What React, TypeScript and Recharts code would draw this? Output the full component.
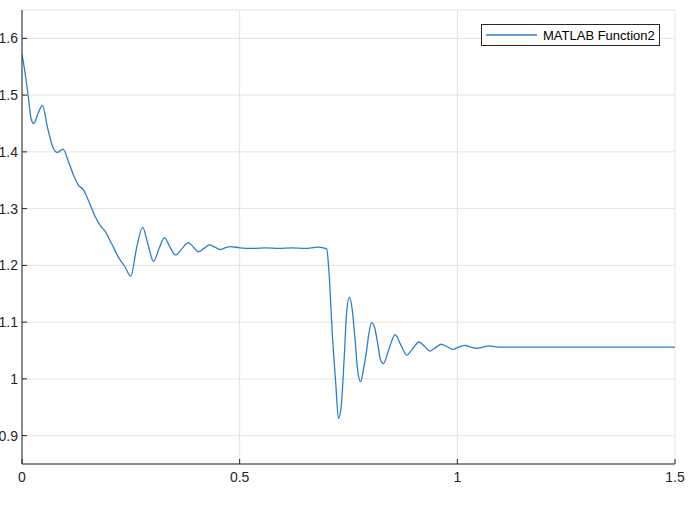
import { LineChart, Line, XAxis, YAxis, CartesianGrid } from 'recharts';

// sample times (s) and signal values
const times = [
  0, 0.006, 0.014, 0.021, 0.027, 0.037, 0.047, 0.058, 0.070, 0.081, 0.094, 0.108, 0.121, 0.129,
  0.141, 0.155, 0.168, 0.180, 0.191, 0.206, 0.221, 0.236, 0.250, 0.263, 0.277, 0.290, 0.302,
  0.315, 0.327, 0.340, 0.353, 0.368, 0.382, 0.394, 0.405, 0.418, 0.430, 0.443, 0.455, 0.467,
  0.478, 0.50, 0.53, 0.56, 0.59, 0.62, 0.65, 0.68, 0.70, 0.705, 0.713, 0.721, 0.727, 0.733,
  0.740, 0.746, 0.752, 0.758, 0.765, 0.771, 0.778, 0.784, 0.791, 0.797, 0.803, 0.810, 0.817,
  0.823, 0.830, 0.844, 0.857, 0.870, 0.884, 0.898, 0.912, 0.925, 0.937, 0.950, 0.963, 0.976,
  0.989, 1.003, 1.018, 1.031, 1.045, 1.058, 1.071, 1.10, 1.15, 1.20, 1.25, 1.30, 1.35, 1.40,
  1.45, 1.50,
];
const values = [
  1.572, 1.545, 1.50, 1.458, 1.450, 1.468, 1.482, 1.445, 1.410, 1.399, 1.405, 1.380, 1.354, 1.342,
  1.333, 1.310, 1.286, 1.270, 1.260, 1.238, 1.215, 1.198, 1.181, 1.230, 1.267, 1.235, 1.207,
  1.230, 1.249, 1.232, 1.218, 1.230, 1.240, 1.232, 1.224, 1.230, 1.236, 1.232, 1.228, 1.231,
  1.233, 1.231, 1.230, 1.231, 1.230, 1.231, 1.230, 1.232, 1.229, 1.19, 1.077, 0.989, 0.930, 0.95,
  1.035, 1.12, 1.144, 1.125, 1.07, 1.015, 0.995, 1.015, 1.047, 1.08, 1.099, 1.09, 1.063,
  1.035, 1.027, 1.055, 1.078, 1.060, 1.042, 1.054, 1.065, 1.057, 1.049, 1.055, 1.061, 1.057,
  1.052, 1.056, 1.059, 1.056, 1.054, 1.056, 1.058, 1.056, 1.056, 1.056, 1.056, 1.056, 1.056, 1.056,
  1.056, 1.056,
];
const xTicks = [0, 0.5, 1, 1.5];
const yTicks = [0.9, 1, 1.1, 1.2, 1.3, 1.4, 1.5, 1.6];
const seriesName = 'MATLAB Function2';

const data = times.map((t, i) => ({ t, v: values[i] }));

const AXIS = '#262626';
const LINE = '#2a7fcc';
const FONT = '"Liberation Sans", Arial, Helvetica, sans-serif';

const NoLabel = () => <g />;

const App = () => {
  return (
    <div style={{ position: 'relative', width: 692, height: 509 }}>
      <style>{`body { margin: 0; background: #fff; }`}</style>
      <LineChart
        width={692}
        height={509}
        data={data}
        margin={{ top: 10, right: 17, bottom: 0, left: 0 }}
      >
        <CartesianGrid stroke="#e3e3e3" strokeWidth={1} />
        <XAxis
          dataKey="t"
          type="number"
          domain={[0, 1.5]}
          ticks={xTicks}
          height={45}
          stroke={AXIS}
          tickSize={-5}
          tickMargin={13}
          tick={{ fill: AXIS, fontSize: 14, fontFamily: FONT }}
          allowDataOverflow
        />
        <XAxis
          xAxisId="top"
          orientation="top"
          dataKey="t"
          type="number"
          domain={[0, 1.5]}
          ticks={xTicks}
          height={0}
          stroke={AXIS}
          tickSize={-5}
          tick={NoLabel}
          allowDataOverflow
        />
        <YAxis
          type="number"
          domain={[0.85, 1.65]}
          ticks={yTicks}
          width={22}
          stroke={AXIS}
          tickSize={-5}
          tickMargin={9}
          tick={{ fill: AXIS, fontSize: 14, fontFamily: FONT }}
          allowDataOverflow
        />
        <YAxis
          yAxisId="right"
          orientation="right"
          type="number"
          domain={[0.85, 1.65]}
          ticks={yTicks}
          width={0}
          stroke={AXIS}
          tickSize={-5}
          tick={NoLabel}
          allowDataOverflow
        />
        <Line
          type="monotone"
          dataKey="v"
          name={seriesName}
          stroke={LINE}
          strokeWidth={1.3}
          dot={false}
          isAnimationActive={false}
        />
      </LineChart>
      <div
        style={{
          position: 'absolute',
          top: 24,
          left: 481,
          width: 179,
          height: 22,
          border: `1px solid ${AXIS}`,
          background: '#fff',
          display: 'flex',
          alignItems: 'center',
          fontFamily: FONT,
          fontSize: 13,
          color: '#000',
          boxSizing: 'border-box',
        }}
      >
        <svg width={57} height={10} style={{ marginLeft: 4 }}>
          <line x1={0} y1={5} x2={51} y2={5} stroke={LINE} strokeWidth={1.3} />
        </svg>
        <span>{seriesName}</span>
      </div>
    </div>
  );
};

export default App;
